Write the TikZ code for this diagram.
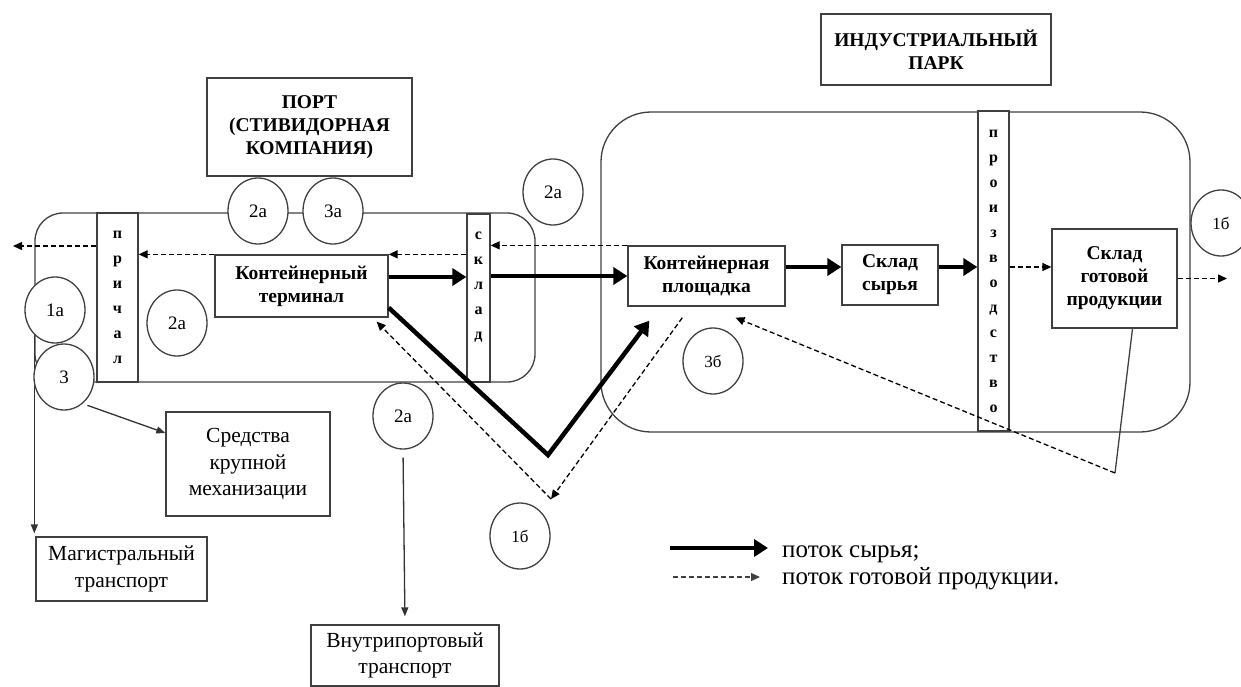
\documentclass[tikz,border=0pt]{standalone}
\usepackage{fontspec}
\setmainfont{Liberation Serif}
\usetikzlibrary{arrows.meta,shapes.geometric}
\begin{document}
\begin{tikzpicture}[x=1pt,y=-1pt,
  line/.style={draw=black!75, line width=1.3pt},
  box/.style={line, fill=white, inner sep=0pt},
  bbox/.style={box, font=\bfseries\fontsize{19.5}{23}\selectfont, align=center},
  nbox/.style={box, font=\fontsize{21.5}{26.5}\selectfont, align=center},
  band/.style={box, font=\bfseries\fontsize{16}{25}\selectfont, align=center},
  vtext/.style={font=\bfseries\fontsize{16}{25}\selectfont, align=center, inner sep=0pt},
  area/.style={line, rounded corners=28pt, inner sep=0pt},
  circ/.style={ellipse, line, fill=white, minimum width=60pt, minimum height=66pt, inner sep=0pt, font=\fontsize{19}{20}\selectfont},
  circb/.style={circ, font=\fontsize{17}{18}\selectfont},
  raw/.style={line width=4.5pt, -{Triangle[length=14pt,width=17pt]}},
  fin/.style={line width=1.3pt, dash pattern=on 5pt off 3pt, -{Triangle[length=9pt,width=8pt]}},
  thinarr/.style={line width=1.3pt, black!80, -{Triangle[length=9pt,width=7pt]}},
  legtext/.style={anchor=base west, inner sep=0pt, font=\fontsize{25}{28}\selectfont}
]
\useasboundingbox (0,0) rectangle (1241,687);

% areas
\node[area, minimum width=500pt, minimum height=169pt] (port) at (285,297.5) {};
\node[area, rounded corners=50pt, minimum width=589pt, minimum height=320pt] (park) at (895.5,272) {};

% bands
\node[band, minimum width=41pt, minimum height=169pt] (prichal) at (117.5,297.5) {п\\р\\и\\ч\\а\\л};
\node[box, minimum width=23pt, minimum height=168pt] (sklad) at (478.5,298) {};
\node[vtext] (skladtxt) at (478.5,287) {с\\к\\л\\а\\д};
\node[band, minimum width=31pt, minimum height=320pt] (proizv) at (993.5,271) {п\\р\\о\\и\\з\\в\\о\\д\\с\\т\\в\\о};

% boxes
\node[bbox, minimum width=205pt, minimum height=98pt] (portlbl) at (309.5,127) {ПОРТ\\(СТИВИДОРНАЯ\\КОМПАНИЯ)};
\node[bbox, minimum width=230pt, minimum height=71pt] (ip) at (936,49.5) {ИНДУСТРИАЛЬНЫЙ\\ПАРК};
\node[bbox, minimum width=173pt, minimum height=62pt] (term) at (301.5,286) {Контейнерный\\терминал};
\node[bbox, minimum width=157pt, minimum height=60pt] (plosh) at (706.5,276) {Контейнерная\\площадка};
\node[bbox, minimum width=96pt, minimum height=60pt] (syr) at (890,275) {Склад\\сырья};
\node[bbox, minimum width=125pt, minimum height=99pt] (gotov) at (1114.5,278.5) {Склад\\готовой\\продукции};
\node[nbox, minimum width=164pt, minimum height=104pt] (sredstva) at (248,464) {Средства\\крупной\\механизации};
\node[nbox, minimum width=171pt, minimum height=64pt] (magist) at (121.5,569) {Магистральный\\транспорт};
\node[nbox, minimum width=188pt, minimum height=61pt] (vnutr) at (405,655.5) {Внутрипортовый\\транспорт};

% main transport line
\draw[thinarr, shorten >=3pt] (port.west) -- (port.west |- magist.north);

% circles
\node[circ] (c2aA) at (258,211) {2а};
\node[circ] (c3a) at (333,211) {3а};
\node[circ] (c2aB) at (553,192) {2а};
\node[circ] (c1a) at (55,310) {1а};
\node[circ] (c3) at (64,377) {3};
\node[circ] (c2aC) at (177,323) {2а};
\node[circ] (c2aD) at (403,416) {2а};
\node[circb] (c3b) at (713,361) {3б};
\node[circb] (c1bA) at (520,536) {1б};
\node[circb] (c1bB) at (1221,223) {1б};

% finished-product flow (dashed)
\coordinate (outL) at (13,246);
\draw[fin] (prichal.west |- outL) -- (outL);
\draw[fin] (term.north west) -- (prichal.east |- term.north west);
\draw[fin] (sklad.west |- term.north east) -- (term.north east);
\draw[fin] (plosh.north west) -- (sklad.east |- plosh.north west);

% raw flow (thick)
\coordinate (tE) at ([yshift=9pt]term.east);
\draw[raw] (tE) -- (sklad.west |- tE);
\draw[raw] (sklad.east |- plosh.west) -- (plosh.west);
\coordinate (pE) at ([yshift=9pt]plosh.east);
\draw[raw] (pE) -- (syr.west |- pE);
\draw[raw] (syr.east |- pE) -- (proizv.west |- pE);
\draw[fin] (proizv.east |- pE) -- (gotov.west |- pE);
\coordinate (outR) at (1227,278.5);
\draw[fin] (gotov.east) -- (outR);

\coordinate (vbot) at (548,455);
\draw[raw] ([yshift=10pt]term.south east) -- (vbot) -- ([xshift=22pt,yshift=-14pt]plosh.south west);

\coordinate (v2) at (551,499);
\draw[fin] ([xshift=55pt,yshift=-11pt]plosh.south west) -- (v2);
\draw[fin] (v2) -- ([xshift=-12pt,yshift=-4pt]term.south east);

\coordinate (g2) at (1115,473);
\draw[line] ([xshift=18pt]gotov.south) -- (g2);
\draw[fin] (g2) -- ([xshift=29pt,yshift=-11pt]plosh.south);

% thin arrows
\draw[thinarr, shorten <=5pt] (c3.-55) -- ([yshift=31pt]sredstva.west);
\draw[thinarr, shorten <=8pt, shorten >=8pt] (c2aD.south) -- (vnutr.north);

% legend
\coordinate (l1a) at (670,548);
\coordinate (l1b) at (768,548);
\draw[raw] (l1a) -- (l1b);
\coordinate (l2a) at (673,577);
\coordinate (l2b) at (760,577);
\draw[fin, black!75] (l2a) -- (l2b);
\node[legtext] (leg1) at (782,557) {поток сырья;};
\node[legtext] (leg2) at (782,584) {поток готовой продукции.};
\end{tikzpicture}
\end{document}
